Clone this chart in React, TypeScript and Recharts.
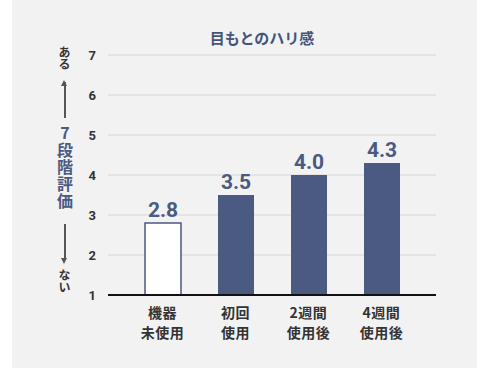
import React from "react";
import { BarChart, Bar, XAxis, YAxis, CartesianGrid, Cell, LabelList } from "recharts";

const categories = ["機器\n未使用", "初回\n使用", "2週間\n使用後", "4週間\n使用後"];
const values = [2.8, 3.5, 4.0, 4.3];
const yTicks = [1, 2, 3, 4, 5, 6, 7];
const title = "目もとのハリ感";

const data = categories.map((c, i) => ({ name: c, value: values[i] }));

const NAVY = "#4a5a80";
const JP = "'Noto Sans CJK JP', 'Noto Sans', sans-serif";
const NUM = "Roboto, 'Noto Sans', sans-serif";

const CatTick = (props: any) => {
  const { x, y, payload } = props;
  const lines = String(payload.value).split("\n");
  return (
    <g>
      {lines.map((l: string, i: number) => (
        <text key={i} x={x} y={y + 15 + i * 20} textAnchor="middle" fontSize={14} letterSpacing={0.5} fontWeight={700} fill="#333" fontFamily={JP}>
          {l}
        </text>
      ))}
    </g>
  );
};

const vert: React.CSSProperties = {
  position: "absolute",
  writingMode: "vertical-rl",
  textOrientation: "upright",
  fontFamily: JP,
  fontWeight: 700,
  lineHeight: 1,
};

export default function App() {
  return (
    <div style={{ position: "absolute", left: 0, top: 0, width: 490, height: 368, background: "#fff" }}>
      <div style={{ position: "absolute", left: 12, top: 0, width: 465, height: 368, background: "#f2f2f2" }} />
      <div style={{ position: "absolute", left: 0, top: 27, width: 524, textAlign: "center", fontFamily: JP, fontWeight: 700, fontSize: 15, color: "#44557a" }}>
        {title}
      </div>
      <div style={{ position: "absolute", left: 0, top: 0 }}>
        <BarChart width={490} height={368} data={data} margin={{ top: 55, right: 54, bottom: 43, left: 78 }}>
          <CartesianGrid vertical={false} stroke="#d6d6d6" strokeWidth={1.2} />
          <XAxis
            dataKey="name"
            height={30}
            tick={<CatTick />}
            tickLine={false}
            axisLine={{ stroke: "#111", strokeWidth: 2 }}
            padding={{ left: 18, right: 18 }}
            interval={0}
          />
          <YAxis
            domain={[1, 7]}
            ticks={yTicks}
            width={30}
            tickLine={false}
            axisLine={false}
            tickSize={0}
            tickMargin={12}
            tick={{ fontSize: 13, fontWeight: 700, fill: "#333", fontFamily: NUM }}
          />
          <Bar dataKey="value" barSize={36} isAnimationActive={false}>
            {data.map((d, i) => (
              <Cell key={i} fill={i === 0 ? "#fff" : NAVY} stroke={i === 0 ? NAVY : "none"} strokeWidth={1.5} />
            ))}
            <LabelList dataKey="value" position="top" offset={6} formatter={(v: any) => Number(v).toFixed(1)}
              style={{ fontSize: 21, fontWeight: 700, fill: NAVY, fontFamily: NUM }} />
          </Bar>
        </BarChart>
      </div>
      <div style={{ ...vert, left: 58, top: 46, fontSize: 12, color: "#333" }}>ある</div>
      <div style={{ position: "absolute", left: 64, top: 82, width: 1.5, height: 36, background: "#555" }} />
      <div style={{ position: "absolute", left: 61, top: 80, width: 0, height: 0, borderLeft: "3.5px solid transparent", borderRight: "3.5px solid transparent", borderBottom: "6px solid #555" }} />
      <div style={{ ...vert, left: 57, top: 125, fontSize: 16, color: NAVY, letterSpacing: 1 }}>7段階評価</div>
      <div style={{ position: "absolute", left: 64, top: 224, width: 1.5, height: 36, background: "#555" }} />
      <div style={{ position: "absolute", left: 61, top: 258, width: 0, height: 0, borderLeft: "3.5px solid transparent", borderRight: "3.5px solid transparent", borderTop: "6px solid #555" }} />
      <div style={{ ...vert, left: 58, top: 269, fontSize: 12, color: "#333" }}>ない</div>
    </div>
  );
}
